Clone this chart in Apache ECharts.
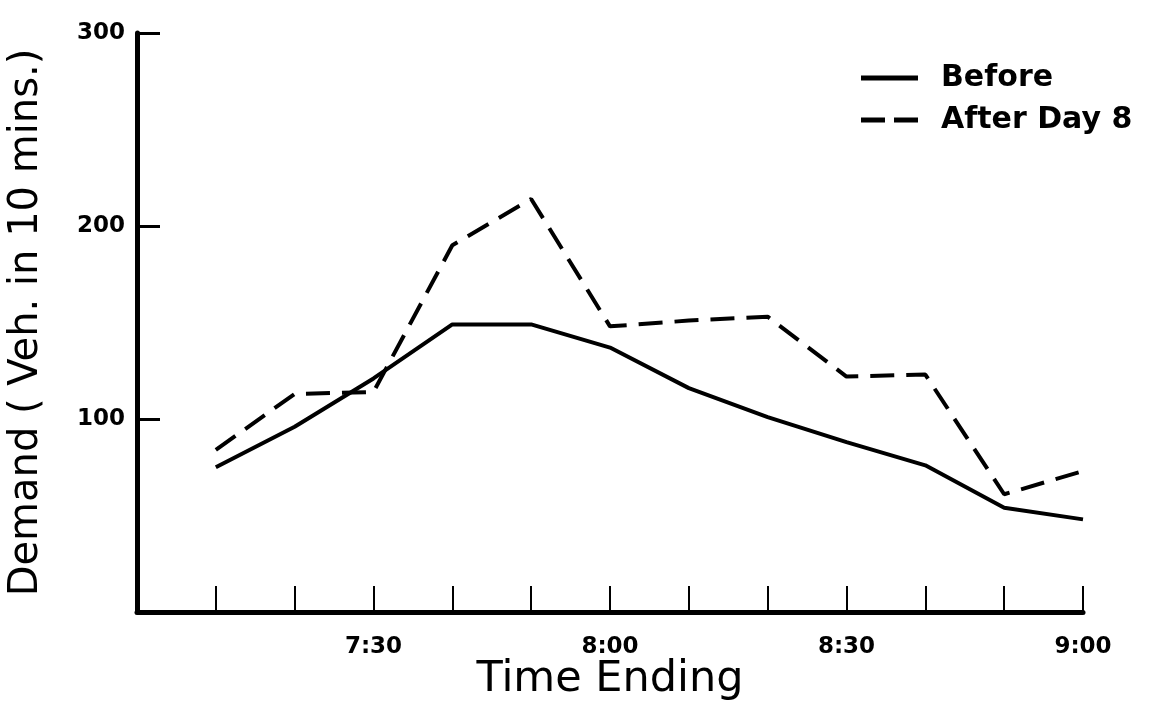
<!DOCTYPE html>
<html>
<head>
<meta charset="utf-8">
<script src="https://cdn.jsdelivr.net/npm/echarts@6/dist/echarts.min.js"></script>
<style>
  html, body { margin: 0; padding: 0; background: #fff; }
  #chart { width: 1157px; height: 711px; }
</style>
</head>
<body>
<div id="chart"></div>
<script>
// time ending, every 10 minutes
const times = ["7:00", "7:10", "7:20", "7:30", "7:40", "7:50", "8:00",
               "8:10", "8:20", "8:30", "8:40", "8:50", "9:00"];
const shownLabels = ["7:30", "8:00", "8:30", "9:00"];

// demand, veh. in 10 mins (no value at 7:00)
const before    = [null, 75, 96, 121, 149, 149, 137, 116, 101, 88, 76, 54, 48];
const afterDay8 = [null, 84, 113, 114, 190, 214, 148, 151, 153, 122, 123, 61, 73];

const yTicks = [0, 100, 200, 300];

const font = "DejaVu Sans";
// legend samples: a plain stroke and a broken one
const solidIcon = "path://M0,0h57v5h-57z";
const dashIcon = "path://M0,0h24v5h-24z M33,0h24v5h-24z";

const chart = echarts.init(document.getElementById("chart"));

chart.setOption({
  backgroundColor: "#fff",
  animation: false,
  grid: {
    left: 137,
    right: 74,
    top: 33,
    bottom: 99,
    containLabel: false,
    outerBoundsMode: "none",
  },
  legend: {
    orient: "vertical",
    left: 856,
    top: 58,
    itemWidth: 57,
    itemHeight: 5,
    itemGap: 12,
    itemStyle: { color: "#000", borderWidth: 0 },
    textStyle: {
      fontFamily: font,
      fontSize: 30,
      fontWeight: "bold",
      color: "#000",
      padding: [0, 0, 0, 18],
    },
    data: [
      { name: "Before", icon: solidIcon },
      { name: "After Day 8", icon: dashIcon },
    ],
  },
  xAxis: {
    type: "category",
    boundaryGap: false,
    data: times,
    name: "Time Ending",
    nameLocation: "middle",
    nameGap: 46,
    nameMoveOverlap: false,
    nameTextStyle: { fontFamily: font, fontSize: 43, color: "#000" },
    axisLine: { lineStyle: { color: "#000", width: 5 } },
    axisTick: {
      inside: true,
      length: 26,
      lineStyle: { color: "#000", width: 2 },
      interval: (i) => i > 0,
    },
    axisLabel: {
      interval: (i, v) => shownLabels.includes(v),
      margin: 24,
      fontFamily: font,
      fontSize: 23,
      fontWeight: "bold",
      color: "#000",
    },
    splitLine: { show: false },
  },
  yAxis: {
    type: "value",
    min: yTicks[0],
    max: yTicks[yTicks.length - 1],
    interval: 100,
    name: "Demand ( Veh. in 10 mins.)",
    nameLocation: "middle",
    nameGap: 90,
    nameMoveOverlap: false,
    nameTextStyle: { fontFamily: font, fontSize: 40, color: "#000" },
    axisLine: { show: true, lineStyle: { color: "#000", width: 5 } },
    axisTick: {
      show: true,
      inside: true,
      length: 23,
      lineStyle: { color: "#000", width: 3 },
    },
    axisLabel: {
      margin: 12,
      fontFamily: font,
      fontSize: 23,
      fontWeight: "bold",
      color: "#000",
      formatter: (v) => (v === 0 ? "" : String(v)),
    },
    splitLine: { show: false },
  },
  series: [
    {
      name: "Before",
      type: "line",
      data: before,
      symbol: "none",
      lineStyle: { color: "#000", width: 4, type: "solid" },
      itemStyle: { color: "#000" },
    },
    {
      name: "After Day 8",
      type: "line",
      data: afterDay8,
      symbol: "none",
      lineStyle: { color: "#000", width: 4, type: [24, 12] },
      itemStyle: { color: "#000" },
    },
  ],
});
</script>
</body>
</html>
